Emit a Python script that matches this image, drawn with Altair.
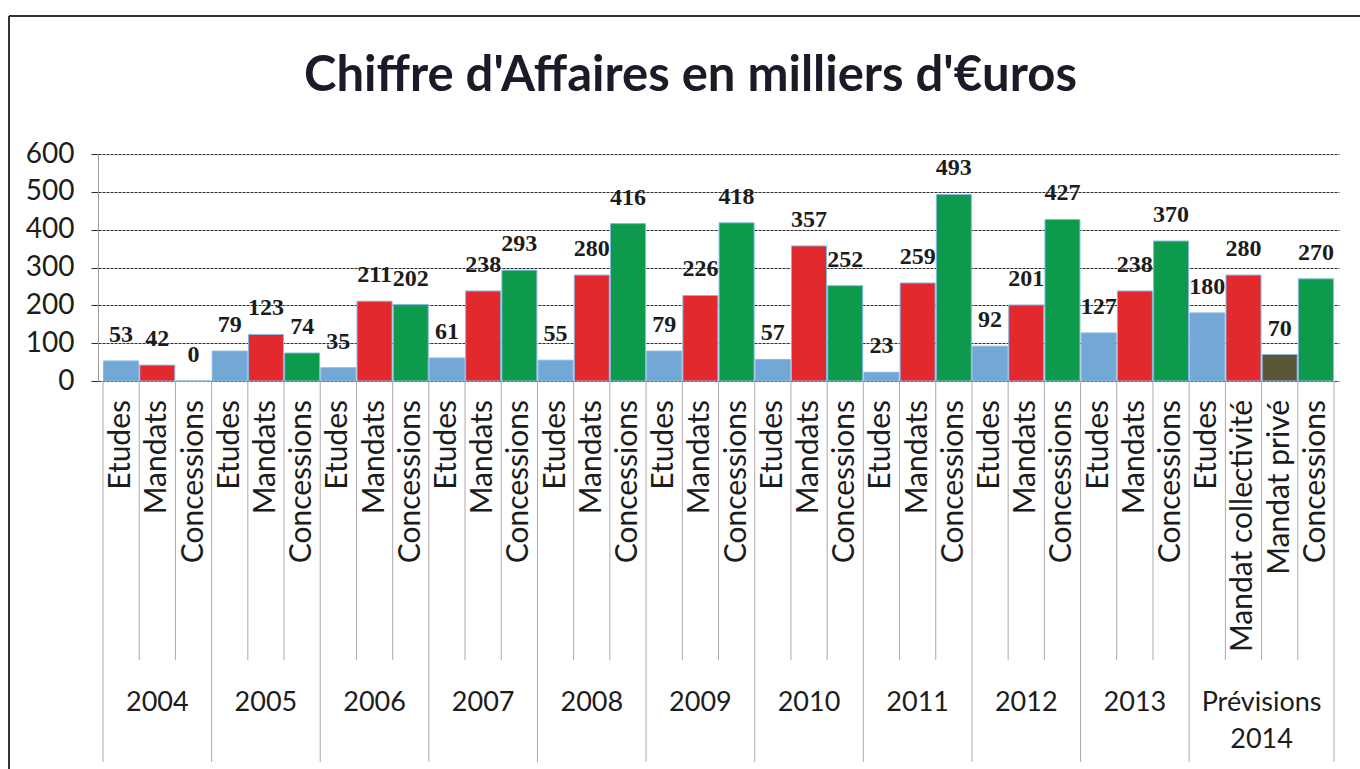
import altair as alt
import pandas as pd

# ---- data ----
years = ["2004", "2005", "2006", "2007", "2008", "2009", "2010",
         "2011", "2012", "2013", "Prévisions\n2014"]
std_cats = ["Etudes", "Mandats", "Concessions"]
cats_2014 = ["Etudes", "Mandat collectivité", "Mandat privé", "Concessions"]

etudes = [53, 79, 35, 61, 55, 79, 57, 23, 92, 127, 180]
mandats = [42, 123, 211, 238, 280, 226, 357, 259, 201, 238]
concessions = [0, 74, 202, 293, 416, 418, 252, 493, 427, 370]
prev_2014 = [180, 280, 70, 270]

type_domain = ["Etudes", "Mandats", "Mandat collectivité", "Mandat privé", "Concessions"]
type_colors = ["#73a7d6", "#e1292e", "#e1292e", "#5a5638", "#0e9a4c"]

# ---- build tables ----
rows = []
year_rows = []
sep_rows = []
idx = 0
for i, y in enumerate(years):
    if i < 10:
        cats = std_cats
        vals = [etudes[i], mandats[i], concessions[i]]
    else:
        cats = cats_2014
        vals = prev_2014
    start = idx
    for c, v in zip(cats, vals):
        rows.append({"pos": idx + 0.5, "cat": c, "value": v, "year": y})
        if idx != start:
            sep_rows.append({"b": idx, "kind": "inner"})
        idx += 1
    sep_rows.append({"b": start, "kind": "year"})
    year_rows.append({"center": (start + idx) / 2, "year": y})
sep_rows.append({"b": idx, "kind": "year"})
N = idx

df = pd.DataFrame(rows)
ydf = pd.DataFrame(year_rows)
inner_df = pd.DataFrame([r for r in sep_rows if r["kind"] == "inner"])
year_df = pd.DataFrame([r for r in sep_rows if r["kind"] == "year"])

W, H = 1241, 227
PAD_L, PAD_T = 98, 154

xs = alt.Scale(domain=[0, N], nice=False, zero=False)
ys = alt.Scale(domain=[0, 600], nice=False)

y_axis = alt.Axis(
    values=[0, 100, 200, 300, 400, 500, 600], title=None,
    grid=True, gridColor="#2e2e2e", gridDash=[3, 1], gridWidth=1.2,
    domain=True, domainColor="#9a9a9a", domainWidth=1,
    ticks=True, tickSize=7, tickColor="#2e2e2e",
    labelFont="Lato", labelFontSize=28, labelColor="#1c1c1c",
    labelPadding=17)

base = alt.Chart(df)

bars = base.mark_bar(size=35, stroke="#86b8e2", strokeWidth=1).encode(
    x=alt.X("pos:Q", scale=xs, axis=None),
    y=alt.Y("value:Q", scale=ys, axis=y_axis),
    color=alt.Color("cat:N", scale=alt.Scale(domain=type_domain, range=type_colors), legend=None),
)

values_txt = base.mark_text(font="Liberation Serif", fontWeight="bold", fontSize=24,
                            baseline="alphabetic", dy=-19, color="#1c1c1c").encode(
    x=alt.X("pos:Q", scale=xs, axis=None),
    y=alt.Y("value:Q", scale=ys, axis=y_axis),
    text="value:Q",
)

cat_txt = base.mark_text(font="Lato", fontSize=30, angle=270, align="right",
                         baseline="middle", color="#1c1c1c").encode(
    x=alt.X("pos:Q", scale=xs, axis=None),
    y=alt.value(H + 19),
    text="cat:N",
)

inner_sep = alt.Chart(inner_df).mark_rule(color="#b0a6ac", strokeWidth=1).encode(
    x=alt.X("b:Q", scale=xs, axis=None), y=alt.value(H), y2=alt.value(H + 279))

year_sep = alt.Chart(year_df).mark_rule(color="#b0a6ac", strokeWidth=1).encode(
    x=alt.X("b:Q", scale=xs, axis=None), y=alt.value(H), y2=alt.value(H + 381))

year_txt = alt.Chart(ydf).mark_text(font="Lato", fontSize=27, baseline="alphabetic",
                                    lineBreak="\n", lineHeight=37, color="#1c1c1c").encode(
    x=alt.X("center:Q", scale=xs, axis=None),
    y=alt.value(H + 330),
    text="year:N",
)

frame_left = alt.Chart(year_df).mark_rule(color="#333333", strokeWidth=2).encode(
    x=alt.value(9 - PAD_L), y=alt.value(16 - PAD_T), y2=alt.value(769 - PAD_T))
frame_top = alt.Chart(year_df).mark_rule(color="#333333", strokeWidth=2).encode(
    x=alt.value(9 - PAD_L), x2=alt.value(1360 - PAD_L), y=alt.value(16 - PAD_T))

chart = alt.layer(
    bars, inner_sep, year_sep, values_txt, cat_txt, year_txt, frame_left, frame_top
).properties(
    width=W, height=H,
    title=alt.TitleParams(
        "Chiffre d'Affaires en milliers d'€uros",
        font="Lato", fontSize=49, fontWeight="bold", color="#1a1a28",
        anchor="middle", dx=-28, offset=-86),
    autosize=alt.AutoSizeParams(type="none"),
    padding={"left": PAD_L, "top": PAD_T, "right": 1360 - PAD_L - W, "bottom": 769 - PAD_T - H},
).configure_view(stroke=None)

chart.save("out.html", embed_options={"renderer": "svg", "actions": False})
